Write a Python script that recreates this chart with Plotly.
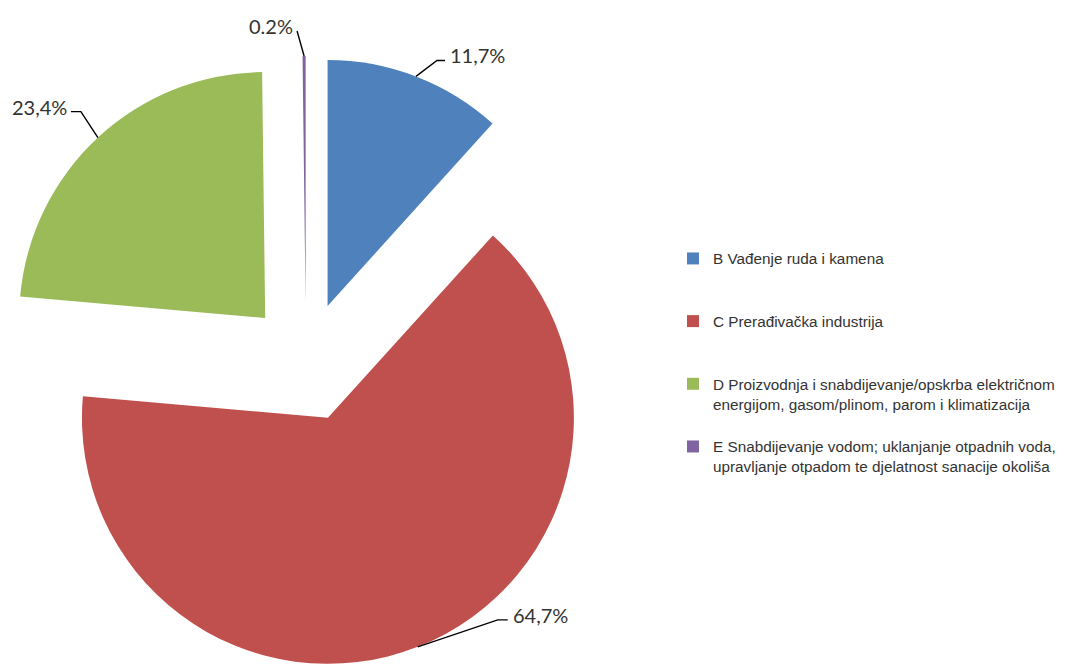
import math
import plotly.graph_objects as go

# ---- data ----
categories = [
    "B Vađenje ruda i kamena",
    "C Prerađivačka industrija",
    "D Proizvodnja i snabdijevanje/opskrba električnom<br>energijom, gasom/plinom, parom i klimatizacija",
    "E Snabdijevanje vodom; uklanjanje otpadnih voda,<br>upravljanje otpadom te djelatnost sanacije okoliša",
]
values = [11.7, 64.7, 23.4, 0.2]
value_labels = ["11,7%", "64,7%", "23,4%", "0.2%"]
colors = ["#4F81BD", "#C0504D", "#9BBB59", "#8064A2"]

# ---- layout / style ----
W, H = 1083, 668
PULL = 0.244
DOM_X = [0.0, 612 / W]
DOM_Y = [0.0, 612 / H]
# label leader offsets (px from arc point to elbow), tail length
leader_offsets = [(21, -16), (80, -27), (-17, -26), (-7, -25)]
tails = [8, 10, -10, 0]
text_dy = [-5, -5, -5, -5]

# legend entries padded so entries are evenly spaced (like the original)
legend_names = [
    categories[0] + "<br> <br> ",
    categories[1] + "<br> <br> ",
    categories[2] + "<br> ",
    categories[3],
]

fig = go.Figure(
    go.Pie(
        labels=legend_names,
        values=values,
        sort=False,
        direction="clockwise",
        rotation=0,
        pull=PULL,
        marker=dict(colors=colors, line=dict(width=0)),
        textinfo="none",
        hoverinfo="label+percent",
        domain=dict(x=DOM_X, y=DOM_Y),
    )
)

# geometry matching plotly's pie scaling
box_w = W * (DOM_X[1] - DOM_X[0])
box_h = H * (DOM_Y[1] - DOM_Y[0])
r = min(box_w, box_h) / 2 / (1 + PULL)
cx = W * (DOM_X[0] + DOM_X[1]) / 2
cy = H * (1 - (DOM_Y[0] + DOM_Y[1]) / 2)

total = sum(values)
cum = 0.0
shapes = []
annotations = []
for i, v in enumerate(values):
    mid = (cum + v / 2) / total * 2 * math.pi
    cum += v
    ux, uy = math.sin(mid), -math.cos(mid)
    ax = cx + (1 + PULL) * r * ux
    ay = cy + (1 + PULL) * r * uy
    ex = ax + leader_offsets[i][0]
    ey = ay + leader_offsets[i][1]
    tx = ex + tails[i]
    path = "M {:.4f} {:.4f} L {:.4f} {:.4f} L {:.4f} {:.4f}".format(
        ax / W, 1 - ay / H, ex / W, 1 - ey / H, tx / W, 1 - ey / H
    )
    shapes.append(dict(type="path", xref="paper", yref="paper", path=path,
                       line=dict(color="#000000", width=1.4)))
    right = tails[i] > 0
    annotations.append(dict(
        x=(tx + (3 if right else -2)) / W, y=1 - (ey + text_dy[i]) / H,
        xref="paper", yref="paper", text=value_labels[i], showarrow=False,
        xanchor="left" if right else "right", yanchor="middle",
        font=dict(family="Lato, sans-serif", size=20, color="#333333"),
    ))

fig.update_layout(
    width=W, height=H,
    margin=dict(l=0, r=0, t=0, b=0),
    paper_bgcolor="white",
    plot_bgcolor="white",
    shapes=shapes,
    annotations=annotations,
    showlegend=True,
    legend=dict(
        x=673 / W, xanchor="left", y=1 - 242 / H, yanchor="top",
        valign="top",
        font=dict(family="Liberation Sans, Arial, sans-serif", size=15.3, color="#333333"),
        bgcolor="rgba(0,0,0,0)",
    ),
)

fig.write_html("out.html", config={"displayModeBar": False},
               post_script="document.body.style.margin='0';")
